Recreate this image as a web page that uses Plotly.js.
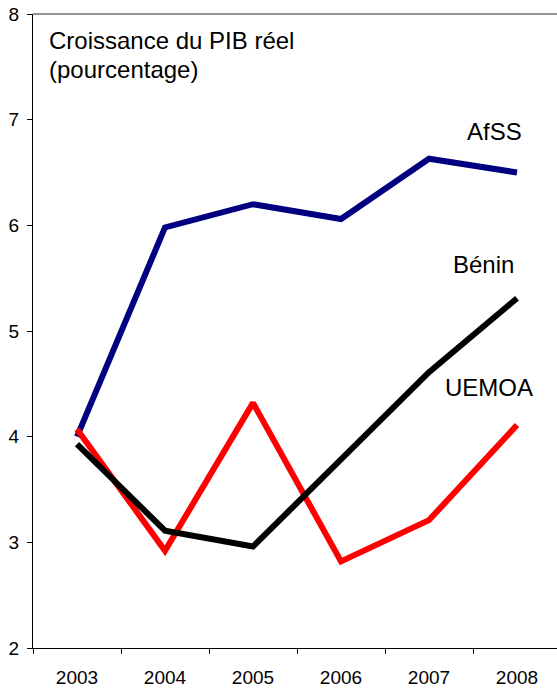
<!DOCTYPE html>
<html>
<head>
<meta charset="utf-8">
<script src="https://cdn.plot.ly/plotly-3.0.1.min.js"></script>
<style>html,body{margin:0;padding:0;background:#fff;}#chart{width:557px;height:690px;}</style>
</head>
<body>
<div id="chart"></div>
<script>
const years = ['2003', '2004', '2005', '2006', '2007', '2008'];
const afss = [4.0, 5.98, 6.2, 6.06, 6.63, 6.5];
const benin = [3.93, 3.11, 2.96, 3.78, 4.61, 5.31];
const uemoa = [4.07, 2.92, 4.32, 2.82, 3.21, 4.11];
const yTicks = [2, 3, 4, 5, 6, 7, 8];

const W = 557, H = 690, L = 33, R = 0, T = 14, B = 42;
const pw = W - L - R, ph = H - T - B;
const px = x => (x - L) / pw;
const py = y => (H - B - y) / ph;
const FONT = 'Liberation Sans, Arial, sans-serif';

const traces = [
  {x: years, y: afss, name: 'AfSS', mode: 'lines', line: {color: '#000080', width: 6}},
  {x: years, y: uemoa, name: 'UEMOA', mode: 'lines', line: {color: '#FF0000', width: 6}},
  {x: years, y: benin, name: 'Bénin', mode: 'lines', line: {color: '#000000', width: 6}}
];

const ann = (text, x, y, xanchor) => ({
  text: text, xref: 'paper', yref: 'paper', x: px(x), y: py(y),
  xanchor: xanchor || 'center', yanchor: 'middle', showarrow: false,
  font: {family: FONT, size: 24, color: '#000'}
});

const layout = {
  width: W, height: H,
  margin: {l: L, r: R, t: T, b: B, pad: 0},
  paper_bgcolor: '#fff', plot_bgcolor: '#fff',
  showlegend: false,
  font: {family: FONT, color: '#000'},
  xaxis: {
    type: 'category', categoryorder: 'array', categoryarray: years,
    range: [-0.5, -0.5 + pw / 88],
    tickson: 'boundaries', ticks: 'outside', ticklen: 5, tickcolor: '#000',
    showline: true, linecolor: '#000', linewidth: 1,
    showgrid: false, zeroline: false,
    ticklabelstandoff: 12,
    tickfont: {family: FONT, size: 19, color: '#000'},
    fixedrange: true
  },
  yaxis: {
    range: [2, 8], tickvals: yTicks, ticktext: yTicks.map(String),
    ticks: 'outside', ticklen: 5, tickcolor: '#000',
    showline: true, linecolor: '#000', linewidth: 1,
    showgrid: false, zeroline: false,
    ticklabelstandoff: 4,
    tickfont: {family: FONT, size: 19, color: '#000'},
    fixedrange: true
  },
  shapes: [
    {type: 'line', xref: 'paper', yref: 'paper', x0: 0, x1: 1, y0: 1, y1: 1,
     line: {color: '#707070', width: 1.5}}
  ],
  annotations: [
    ann('Croissance du PIB réel', 47, 41, 'left'),
    ann('(pourcentage)', 47, 69, 'left'),
    ann('AfSS', 494, 132),
    ann('Bénin', 483, 264),
    ann('UEMOA', 489, 387)
  ]
};

Plotly.newPlot('chart', traces, layout, {staticPlot: true, displayModeBar: false});
</script>
</body>
</html>
